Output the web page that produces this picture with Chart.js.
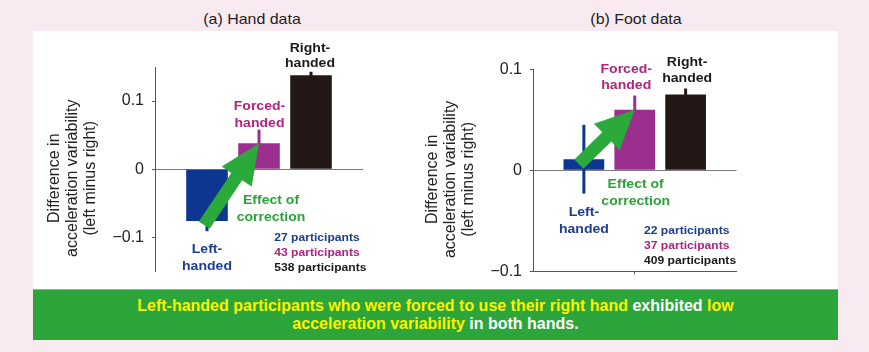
<!DOCTYPE html>
<html>
<head>
<meta charset="utf-8">
<script src="https://cdn.jsdelivr.net/npm/chart.js@4.4.0/dist/chart.umd.min.js"></script>
<style>
  html, body { margin: 0; padding: 0; }
  body { width: 869px; height: 352px; background: #f9eaf2; position: relative; overflow: hidden;
         font-family: "Liberation Sans", Arial, sans-serif; }
  #panel { position: absolute; left: 33px; top: 31px; width: 805px; height: 259px; background: #ffffff; }
  .title { position: absolute; top: 12px; width: 200px; text-align: center; font-size: 14.5px;
           line-height: 14.5px; color: #222; transform: scaleX(1.1); white-space: nowrap; }
  #t1 { left: 152px; }
  #t2 { left: 536px; }
  canvas { position: absolute; }
  #c1 { left: 33px; top: 31px; }
  #c2 { left: 410px; top: 31px; }
  #banner { position: absolute; left: 33px; top: 289px; width: 805px; height: 51px; background: #2ca53a;
            border-top: 1px solid #7cc680; box-sizing: border-box; display: flex; align-items: center;
            justify-content: center; text-align: center; }
  #banner p { margin: 0; font-family: "Liberation Sans", Arial, sans-serif;
              font-weight: bold; font-size: 16px; line-height: 17.6px; color: #ffffff; }
  #banner .y { color: #fff200; }
</style>
</head>
<body>
<div id="panel"></div>
<div class="title" id="t1">(a) Hand data</div>
<div class="title" id="t2">(b) Foot data</div>
<canvas id="c1" width="377" height="258"></canvas>
<canvas id="c2" width="428" height="258"></canvas>
<div id="banner"><p><span class="y">Left-handed participants who were forced to use their right hand</span> exhibited <span class="y">low</span><br><span class="y">acceleration variability</span> in both hands.</p></div>

<script>
// ---------------- data ----------------
const categories = ['Left-handed', 'Forced-handed', 'Right-handed'];
const handValues = [-0.076, 0.038, 0.138];
const handErrors = [0.015, 0.020, 0.005];
const handParticipants = [27, 43, 538];
const footValues = [0.011, 0.060, 0.075];
const footErrors = [0.034, 0.014, 0.006];
const footParticipants = [22, 37, 409];
const yTicks = [-0.1, 0, 0.1];
const yTickLabels = ['\u22120.1', '0', '0.1'];
const handRange = [-0.15, 0.15];
const footRange = [-0.1, 0.1];
const yTitleLines = ['Difference in', 'acceleration variability', '(left minus right)'];
const effectLines = ['Effect of', 'correction'];

// ---------------- styles ----------------
const barColors = ['#0c3690', '#9a2f8e', '#231815'];
const textColors = ['#1b3e92', '#b0237f', '#1a1a1a'];
const effectColor = '#2ba33a';
const arrowColor = '#2ba93a';
const axisColor = '#555555';
const zeroColor = '#7a7a7a';
const FONT = '"Liberation Sans", Arial, sans-serif';

function splitCat(c) { const i = c.indexOf('-'); return [c.slice(0, i + 1), c.slice(i + 1)]; }

function drawText(ctx, s, x, cy, size, weight, color, align, sx) {
  ctx.save();
  ctx.translate(x, cy + 0.36 * size);
  ctx.scale(sx, 1);
  ctx.font = weight + ' ' + size + 'px ' + FONT;
  ctx.fillStyle = color;
  ctx.textAlign = align;
  ctx.textBaseline = 'alphabetic';
  ctx.fillText(s, 0, 0);
  ctx.restore();
}

function makeAnnot(spec) {
  return {
    id: 'annot',
    afterDatasetsDraw(chart) {
      const ctx = chart.ctx, ca = chart.chartArea, ys = chart.scales.y;
      const meta = chart.getDatasetMeta(0);
      const xs = spec.values.map((v, k) => meta.data[k + 1].x);
      // error bars
      ctx.save();
      spec.values.forEach((v, k) => {
        ctx.strokeStyle = barColors[k];
        ctx.lineWidth = 3;
        ctx.beginPath();
        ctx.moveTo(xs[k], ys.getPixelForValue(v - spec.errors[k]));
        ctx.lineTo(xs[k], ys.getPixelForValue(v + spec.errors[k]));
        ctx.stroke();
      });
      ctx.restore();
      // arrow: from left-handed bar to forced-handed bar
      const tip = { x: xs[1], y: ys.getPixelForValue(spec.values[1]) };
      let tail = { x: xs[0], y: ys.getPixelForValue(spec.values[0]) };
      const dx = tip.x - tail.x, dy = tip.y - tail.y;
      const len = Math.hypot(dx, dy);
      const ux = dx / len, uy = dy / len, nx = -uy, ny = ux;
      tail = { x: tail.x - ux * spec.arrow.ext, y: tail.y - uy * spec.arrow.ext };
      const hb = { x: tip.x - ux * spec.arrow.hl, y: tip.y - uy * spec.arrow.hl };
      const sw = spec.arrow.sw / 2, hw = spec.arrow.hw / 2;
      ctx.save();
      ctx.fillStyle = arrowColor;
      ctx.beginPath();
      ctx.moveTo(tail.x + nx * sw, tail.y + ny * sw);
      ctx.lineTo(hb.x + nx * sw, hb.y + ny * sw);
      ctx.lineTo(hb.x + nx * hw, hb.y + ny * hw);
      ctx.lineTo(tip.x, tip.y);
      ctx.lineTo(hb.x - nx * hw, hb.y - ny * hw);
      ctx.lineTo(hb.x - nx * sw, hb.y - ny * sw);
      ctx.lineTo(tail.x - nx * sw, tail.y - ny * sw);
      ctx.closePath();
      ctx.fill();
      ctx.restore();
      // category labels
      categories.forEach((c, k) => {
        const lines = splitCat(c);
        const p = spec.catPos[k];
        lines.forEach((ln, j) => drawText(ctx, ln, xs[k] + p.dx, ca.top + p.y[j], 13, 'bold', textColors[k], 'center', 1.08));
      });
      // effect of correction
      effectLines.forEach((ln, j) => drawText(ctx, ln, ca.left + spec.effect.x, ca.top + spec.effect.y[j], 13, 'bold', effectColor, 'center', 1.08));
      // participants
      spec.participants.forEach((n, k) => drawText(ctx, n + ' participants', ca.left + spec.part.x, ca.top + spec.part.y[k], 11, 'bold', textColors[k], 'left', 1.1));
      // y-axis title
      const cy = (ca.top + ca.bottom) / 2 + spec.titleDy;
      yTitleLines.forEach((ln, j) => {
        ctx.save();
        ctx.translate(ca.left + spec.titleX[j] + 0.36 * 16, cy);
        ctx.rotate(-Math.PI / 2);
        ctx.font = '16px ' + FONT;
        ctx.fillStyle = '#222';
        ctx.textAlign = 'center';
        ctx.textBaseline = 'alphabetic';
        ctx.fillText(ln, 0, 0);
        ctx.restore();
      });
    }
  };
}

function makeChart(id, spec) {
  return new Chart(document.getElementById(id), {
    type: 'bar',
    data: {
      labels: ['', ...categories, ''],
      datasets: [{
        data: [null, ...spec.values, null],
        backgroundColor: ['rgba(0,0,0,0)', ...barColors, 'rgba(0,0,0,0)'],
        borderWidth: 0,
        barPercentage: 0.8,
        categoryPercentage: 1
      }]
    },
    options: {
      responsive: false,
      animation: false,
      devicePixelRatio: 1,
      layout: { padding: spec.pad },
      plugins: { legend: { display: false }, tooltip: { enabled: false } },
      scales: {
        x: {
          display: spec.showX,
          offset: false,
          grid: {
            offset: false, drawOnChartArea: false, drawTicks: true, tickLength: 3,
            tickColor: (c) => (c.index === 2 ? axisColor : 'rgba(0,0,0,0)')
          },
          border: { display: true, color: axisColor, width: 1 },
          ticks: { display: false },
          afterFit: (s) => { s.height = 3; }
        },
        y: {
          min: spec.range[0],
          max: spec.range[1],
          afterBuildTicks: (s) => { s.ticks = yTicks.map(v => ({ value: v })); },
          afterFit: (s) => { s.width = spec.yWidth; },
          ticks: {
            callback: (v, i) => yTickLabels[i],
            font: { family: FONT, size: 16 },
            color: '#222',
            padding: 8
          },
          grid: {
            drawOnChartArea: true, drawTicks: true, tickLength: 3,
            color: (c) => (c.tick && c.tick.value === 0 ? zeroColor : 'rgba(0,0,0,0)'),
            tickColor: axisColor
          },
          border: { display: true, color: axisColor, width: 1 }
        }
      }
    },
    plugins: [makeAnnot(spec)]
  });
}

makeChart('c1', {
  values: handValues, errors: handErrors, participants: handParticipants, range: handRange,
  showX: false, yWidth: 122, pad: { top: 36, right: 47, bottom: 14, left: 0 },
  arrow: { ext: 5, hl: 40, hw: 36, sw: 13 },
  catPos: [{ dx: 0, y: [181.5, 198.2] }, { dx: 0.5, y: [38.2, 54.9] }, { dx: -1, y: [-20.1, -4.5] }],
  effect: { x: 116, y: [132.5, 149.2] },
  part: { x: 119.3, y: [170.5, 185.5, 200.5] },
  titleX: [-102, -84, -66], titleDy: 9
});

makeChart('c2', {
  values: footValues, errors: footErrors, participants: footParticipants, range: footRange,
  showX: true, yWidth: 123, pad: { top: 38.3, right: 101.5, bottom: 13.3, left: 0 },
  arrow: { ext: 7, hl: 39, hw: 37, sw: 13 },
  catPos: [{ dx: 0, y: [142.4, 159] }, { dx: -8.5, y: [-1, 14.7] }, { dx: 1.5, y: [-7.6, 8] }],
  effect: { x: 102.7, y: [114, 130.7] },
  part: { x: 111, y: [160.7, 175.7, 190.7] },
  titleX: [-102, -84, -66], titleDy: 9
});
</script>
</body>
</html>
